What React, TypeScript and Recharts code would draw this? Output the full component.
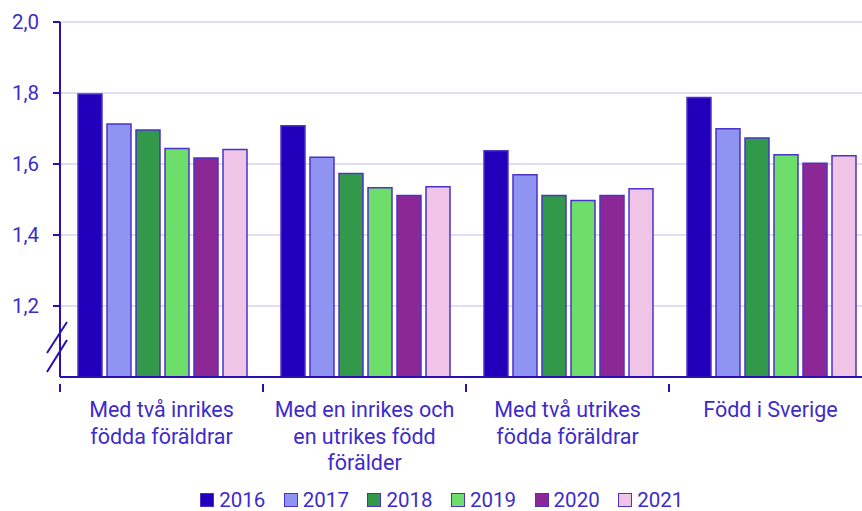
import { BarChart, Bar, XAxis, YAxis, CartesianGrid, Legend } from 'recharts';

const categories = [
  'Med två inrikes|födda föräldrar',
  'Med en inrikes och|en utrikes född|förälder',
  'Med två utrikes|födda föräldrar',
  'Född i Sverige',
];

const v2016 = [1.797, 1.708, 1.637, 1.787];
const v2017 = [1.713, 1.619, 1.57, 1.699];
const v2018 = [1.696, 1.573, 1.511, 1.673];
const v2019 = [1.644, 1.533, 1.497, 1.626];
const v2020 = [1.617, 1.511, 1.511, 1.602];
const v2021 = [1.641, 1.536, 1.53, 1.623];

const years = ['2016', '2017', '2018', '2019', '2020', '2021'];
const colors = ['#2200bb', '#8f94f2', '#33994a', '#6ede6a', '#8b2896', '#f0c4e6'];
const yTicks = [1.2, 1.4, 1.6, 1.8, 2.0];

const TEXT = '#3d2cc9';
const AXIS = '#2a10b0';
const FONT = 'Roboto, sans-serif';

const series = [v2016, v2017, v2018, v2019, v2020, v2021];
const data = categories.map((name, i) => {
  const row: Record<string, string | number> = { name };
  years.forEach((y, k) => {
    row[y] = series[k][i];
  });
  return row;
});

function CategoryTick(props: any) {
  const { x, y, payload } = props;
  const lines: string[] = String(payload.value).split('|');
  const off = payload.offset ?? 101.5;
  return (
    <g>
      <line x1={x - off} x2={x - off} y1={y - 1} y2={y + 7} stroke={AXIS} strokeWidth={2} />
      <text x={x} y={y} textAnchor="middle" fill={TEXT} fontSize={21.5} fontFamily={FONT}>
        {lines.map((l, i) => (
          <tspan key={i} x={x} y={y + 32 + i * 26.5}>
            {l}
          </tspan>
        ))}
      </text>
    </g>
  );
}

function LegendContent() {
  return (
    <div
      style={{
        display: 'flex',
        justifyContent: 'center',
        alignItems: 'center',
        height: 24,
        fontFamily: FONT,
        fontSize: 20.5,
        color: TEXT,
        paddingLeft: 30,
      }}
    >
      {years.map((y, i) => (
        <div key={y} style={{ display: 'flex', alignItems: 'center', marginRight: 18.5 }}>
          <span
            style={{
              display: 'inline-block',
              width: 12,
              height: 12,
              background: colors[i],
              border: '1.5px solid #4b32c8',
              marginRight: 5,
            }}
          />
          <span style={{ lineHeight: '16px', display: 'inline-block' }}>{y}</span>
        </div>
      ))}
    </div>
  );
}

export default function App() {
  return (
    <div
      style={{
        position: 'fixed',
        left: 0,
        top: 0,
        width: 862,
        height: 511,
        overflow: 'hidden',
        background: '#fff',
      }}
    >
      <BarChart
        width={872}
        height={511}
        data={data}
        margin={{ top: 22, right: 0, left: 0, bottom: 0 }}
        barCategoryGap={18}
        barGap={5}
      >
        <CartesianGrid horizontal vertical={false} stroke="#d3d3f2" strokeWidth={1.5} />
        <YAxis
          type="number"
          domain={[1, 2]}
          ticks={yTicks}
          interval={0}
          width={60}
          axisLine={{ stroke: AXIS, strokeWidth: 2 }}
          tickLine={{ stroke: AXIS, strokeWidth: 2 }}
          tickSize={7}
          tickMargin={14}
          tick={{ fill: TEXT, fontSize: 20.5, fontFamily: FONT }}
          tickFormatter={(v: number) => v.toFixed(1).replace('.', ',')}
        />
        <XAxis
          dataKey="name"
          height={104}
          axisLine={{ stroke: AXIS, strokeWidth: 2 }}
          tickLine={false}
          interval={0}
          tick={<CategoryTick />}
        />
        <Legend
          verticalAlign="bottom"
          height={30}
          wrapperStyle={{ bottom: -7 }}
          content={<LegendContent />}
        />
        {years.map((y, i) => (
          <Bar
            key={y}
            dataKey={y}
            fill={colors[i]}
            stroke="#4b32c8"
            strokeWidth={1.5}
            isAnimationActive={false}
          />
        ))}
      </BarChart>
      <svg
        width={862}
        height={511}
        style={{ position: 'absolute', left: 0, top: 0, pointerEvents: 'none' }}
      >
        <line x1={67} y1={322} x2={47} y2={353} stroke={AXIS} strokeWidth={2} />
        <line x1={67} y1={340} x2={47} y2={372} stroke={AXIS} strokeWidth={2} />
      </svg>
    </div>
  );
}
